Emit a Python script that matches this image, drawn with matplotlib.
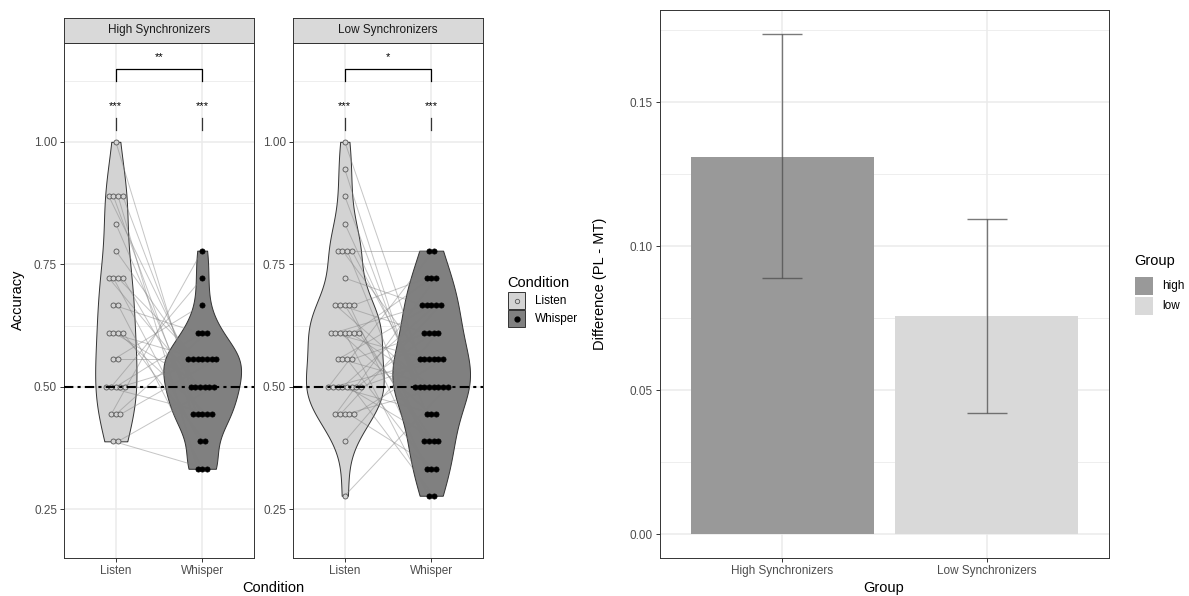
import numpy as np
import matplotlib.pyplot as plt
from matplotlib.patches import Rectangle

plt.rcParams['font.family'] = ['Liberation Sans', 'DejaVu Sans']

# ---- data ----
conditions = ['Listen', 'Whisper']
facets = ['High Synchronizers', 'Low Synchronizers']

# accuracy per participant, listen / whisper in the same order (paired)
high_listen = [1.000, 0.889, 0.889, 0.889, 0.889, 0.833, 0.778, 0.722, 0.722, 0.722,
               0.722, 0.667, 0.667, 0.611, 0.611, 0.611, 0.611, 0.556, 0.556, 0.500,
               0.500, 0.500, 0.500, 0.500, 0.444, 0.444, 0.444, 0.389, 0.389]
high_whisper = [0.500, 0.556, 0.444, 0.333, 0.500, 0.444, 0.556, 0.500, 0.389, 0.556,
                0.444, 0.611, 0.333, 0.556, 0.500, 0.444, 0.389, 0.667, 0.556, 0.444,
                0.722, 0.611, 0.556, 0.500, 0.778, 0.611, 0.556, 0.333, 0.500]
low_listen = [1.000, 0.944, 0.889, 0.833, 0.778, 0.778, 0.778, 0.778, 0.722, 0.667,
              0.667, 0.667, 0.667, 0.667, 0.611, 0.611, 0.611, 0.611, 0.611, 0.611,
              0.611, 0.556, 0.556, 0.556, 0.556, 0.500, 0.500, 0.500, 0.500, 0.500,
              0.500, 0.500, 0.500, 0.444, 0.444, 0.444, 0.444, 0.444, 0.389, 0.278]
low_whisper = [0.556, 0.500, 0.444, 0.500, 0.778, 0.556, 0.389, 0.500, 0.667, 0.500,
               0.611, 0.389, 0.333, 0.722, 0.556, 0.667, 0.444, 0.278, 0.500, 0.722,
               0.389, 0.667, 0.500, 0.333, 0.611, 0.778, 0.556, 0.444, 0.667, 0.389,
               0.278, 0.611, 0.556, 0.722, 0.667, 0.500, 0.333, 0.556, 0.611, 0.500]

pair_sig = ['**', '*']
chance_sig = ['***', '***']

group_labels = ['High Synchronizers', 'Low Synchronizers']
group_keys = ['high', 'low']
diff_mean = [0.1309, 0.0757]
diff_lower = [0.0890, 0.0421]
diff_upper = [0.1735, 0.1093]

# ---- figure ----
W, H = 1189, 596
fig = plt.figure(figsize=(W / 100, H / 100), dpi=100)


def px_axes(x0, y0, x1, y1):
    return fig.add_axes([x0 / W, 1 - y1 / H, (x1 - x0) / W, (y1 - y0) / H])


def density(vals):
    v = np.asarray(vals)
    n = len(v)
    sd = v.std(ddof=1)
    iqr = np.subtract(*np.percentile(v, [75, 25]))
    bw = 0.9 * min(sd, iqr / 1.34) * n ** -0.2
    ys = np.linspace(v.min(), v.max(), 512)
    d = np.exp(-0.5 * ((ys[:, None] - v[None, :]) / bw) ** 2).sum(1) / (n * bw * np.sqrt(2 * np.pi))
    return ys, d


def dot_x(vals, xc, step):
    vals = np.asarray(vals)
    xs = np.zeros(len(vals))
    for u in np.unique(vals):
        idx = np.where(vals == u)[0]
        xs[idx] = xc + (np.arange(len(idx)) - (len(idx) - 1) / 2) * step
    return xs


grid_c = '#EBEBEB'
fills = ['#D3D3D3', '#808080']
panels = [(64, 254), (293, 483)]
data = [(high_listen, high_whisper), (low_listen, low_whisper)]

for i, (x0, x1) in enumerate(panels):
    ax = px_axes(x0, 43, x1, 558)
    listen, whisper = data[i]
    ax.set_xlim(0.4, 2.6)
    ax.set_ylim(0.151, 1.2016)

    # grid
    for y in [0.375, 0.625, 0.875, 1.125]:
        ax.axhline(y, color=grid_c, lw=0.6, zorder=0)
    for y in [0.25, 0.5, 0.75, 1.0]:
        ax.axhline(y, color=grid_c, lw=1.1, zorder=0)
    for x in [1, 2]:
        ax.axvline(x, color=grid_c, lw=1.1, zorder=0)

    # violins (scaled by max density within the panel)
    dens = [density(listen), density(whisper)]
    dmax = max(d.max() for _, d in dens)
    for k, (ys, d) in enumerate(dens):
        w = 0.45 * d / dmax
        ax.fill_betweenx(ys, k + 1 - w, k + 1 + w, facecolor=fills[k],
                         edgecolor='#333333', lw=0.7, zorder=1)

    # paired lines and dots
    step = 0.054
    xl = dot_x(listen, 1, step)
    xw = dot_x(whisper, 2, step)
    for a, b, ya, yb in zip(xl, xw, listen, whisper):
        ax.plot([a, b], [ya, yb], color='#7F7F7F', alpha=0.45, lw=0.7, zorder=2)
    ax.scatter(xl, listen, s=13, facecolor='#D3D3D3', edgecolor='#555555',
               linewidth=0.6, zorder=4)
    ax.scatter(xw, whisper, s=14, facecolor='black', edgecolor='black',
               linewidth=0.5, zorder=4)

    # chance line
    ax.axhline(0.5, color='black', lw=1.5, dashes=(4.5, 2, 1.5, 2), zorder=5)

    # significance marks
    for k in range(2):
        ax.text(k + 1, 1.072, chance_sig[k], ha='center', va='center', fontsize=8)
        ax.plot([k + 1, k + 1], [1.024, 1.048], color='#333333', lw=0.9)
    ax.plot([1, 1, 2, 2], [1.125, 1.149, 1.149, 1.125], color='black', lw=0.9)
    ax.text(1.5, 1.172, pair_sig[i], ha='center', va='center', fontsize=8)

    ax.set_xticks([1, 2])
    ax.set_xticklabels(conditions)
    ax.set_yticks([0.25, 0.5, 0.75, 1.0])
    ax.set_yticklabels(['0.25', '0.50', '0.75', '1.00'])
    ax.tick_params(length=3, width=0.7, color='#333333', labelcolor='#4D4D4D',
                   labelsize=8.5, pad=2)
    for sp in ax.spines.values():
        sp.set_color('#333333')
        sp.set_linewidth(0.7)

    # strip
    st = px_axes(x0, 18, x1, 43)
    st.set_xticks([])
    st.set_yticks([])
    st.set_facecolor('#D9D9D9')
    for sp in st.spines.values():
        sp.set_color('#333333')
        sp.set_linewidth(0.7)
    st.text(0.5, 0.5, facets[i], ha='center', va='center', fontsize=8.5,
            color='#1A1A1A', transform=st.transAxes)

fig.text(18 / W, 1 - 300 / H, 'Accuracy', rotation=90, ha='center', va='center', fontsize=10.5)
fig.text(273 / W, 1 - 588 / H, 'Condition', ha='center', va='center', fontsize=10.5)

# condition legend
lg = px_axes(490, 270, 600, 335)
lg.set_xlim(490, 600)
lg.set_ylim(335, 270)
lg.axis('off')
lg.text(507, 283, 'Condition', ha='left', va='center', fontsize=10.5)
for k, name in enumerate(conditions):
    y0 = 292 + k * 18
    lg.add_patch(Rectangle((508, y0), 17, 17, facecolor=fills[k], edgecolor='#333333', lw=0.7))
    if k == 0:
        lg.scatter([516.5], [y0 + 8.5], s=10, facecolor='#D3D3D3', edgecolor='#555555', linewidth=0.6)
    else:
        lg.scatter([516.5], [y0 + 8.5], s=12, facecolor='black')
    lg.text(535, y0 + 9, name, ha='left', va='center', fontsize=8.5)

# ---- difference bar chart ----
bx = px_axes(660, 10, 1109, 558)
bx.set_xlim(0.4, 2.6)
bx.set_ylim(-0.0083, 0.182)
for y in [0.025, 0.075, 0.125, 0.175]:
    bx.axhline(y, color=grid_c, lw=0.6, zorder=0)
for y in [0.0, 0.05, 0.10, 0.15]:
    bx.axhline(y, color=grid_c, lw=1.1, zorder=0)
for x in [1, 2]:
    bx.axvline(x, color=grid_c, lw=1.1, zorder=0)
pos = np.arange(1, len(group_labels) + 1)
bar_cols = ['#999999', '#D9D9D9']
bx.bar(pos, diff_mean, width=0.9, color=bar_cols, zorder=1)
err = [np.array(diff_mean) - np.array(diff_lower), np.array(diff_upper) - np.array(diff_mean)]
bx.errorbar(pos, diff_mean, yerr=err, fmt='none', ecolor='#4D4D4D', alpha=0.75,
            elinewidth=1.0, capsize=14.4, capthick=1.0, zorder=2)
bx.set_xticks(pos)
bx.set_xticklabels(group_labels)
bx.set_yticks([0.0, 0.05, 0.10, 0.15])
bx.set_yticklabels(['0.00', '0.05', '0.10', '0.15'])
bx.tick_params(length=3, width=0.7, color='#333333', labelcolor='#4D4D4D',
               labelsize=8.5, pad=2)
for sp in bx.spines.values():
    sp.set_color('#333333')
    sp.set_linewidth(0.7)
fig.text(600 / W, 1 - 284 / H, 'Difference (PL - MT)', rotation=90, ha='center', va='center', fontsize=10.5)
fig.text(884 / W, 1 - 588 / H, 'Group', ha='center', va='center', fontsize=10.5)

# group legend
gl = px_axes(1125, 250, 1189, 320)
gl.set_xlim(1125, 1189)
gl.set_ylim(320, 250)
gl.axis('off')
gl.text(1134, 261, 'Group', ha='left', va='center', fontsize=10.5)
for k, key in enumerate(group_keys):
    y0 = 277 + k * 20
    gl.add_patch(Rectangle((1135, y0), 18, 18, facecolor=bar_cols[k], edgecolor='none'))
    gl.text(1162, y0 + 9, key, ha='left', va='center', fontsize=8.5)

fig.savefig('out.png', dpi=100)
